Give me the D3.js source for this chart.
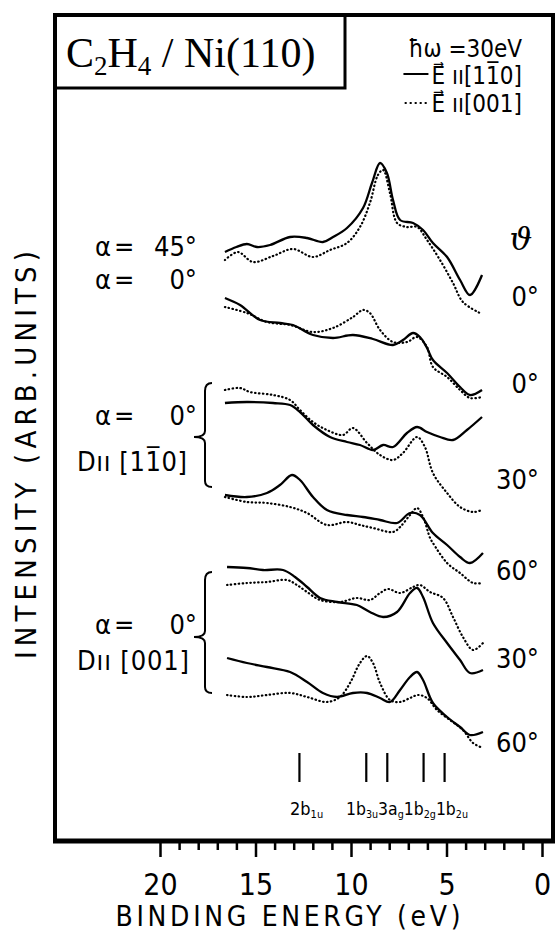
<!DOCTYPE html>
<html><head><meta charset="utf-8">
<script src="https://cdn.jsdelivr.net/npm/d3@7"></script>
<style>html,body{margin:0;padding:0;background:#fff;}svg{display:block;}</style>
</head><body>
<script>
// ---------------- DATA ----------------
// binding energy (eV), intensity (arb. units); solid = E || [1-10], dotted = E || [001]
const xTicksMajor = [0, 5, 10, 15, 20];
const xTicksMinor = d3.range(0, 21, 1);
const thetaLabels = ["0°", "0°", "30°", "60°", "30°", "60°"];
const markerEnergies = [12.7, 9.2, 8.1, 6.2, 5.1];

const s45_0_solid = [[16.6,58.9],[16.0,59.4],[15.45,59.7],[14.92,59.4],[14.24,59.6],[13.19,60.4],[12.3,60.3],[11.47,59.9],[10.94,60.4],[10.21,61.3],[9.37,63.3],[8.9,65.8],[8.48,67.8],[8.12,66.8],[7.8,64.1],[7.43,62.1],[6.75,61.8],[6.23,61.1],[5.71,59.8],[4.97,58.4],[4.29,56.1],[3.77,54.6],[3.14,56.6]];
const s45_0_dot = [[16.6,58.1],[15.92,58.9],[15.13,57.9],[14.08,58.5],[13.04,59.2],[11.99,58.4],[11.1,59.1],[10.21,59.8],[9.53,61.4],[9.01,63.8],[8.59,66.6],[8.32,67.1],[7.96,64.8],[7.59,61.8],[7.07,61.4],[6.54,61.4],[6.02,60.1],[5.34,58.1],[4.66,55.8],[4.14,53.9],[3.25,52.8]];

const s0_0_solid = [[16.6,54.3],[15.81,53.6],[14.76,52.1],[13.72,51.8],[13.04,51.6],[11.99,50.6],[10.94,50.3],[9.9,50.6],[8.85,50.2],[7.8,49.6],[7.28,50.1],[6.75,50.8],[6.39,50.4],[6.02,49.3],[5.71,48.1],[4.97,46.8],[4.29,45.4],[3.77,44.6],[3.14,45.1]];
const s0_0_dot = [[16.6,53.4],[15.45,52.8],[14.4,51.9],[13.19,51.6],[11.99,50.9],[10.94,51.3],[9.9,52.4],[9.37,53.1],[9.01,52.8],[8.48,51.1],[7.8,49.9],[7.07,49.9],[6.54,50.4],[6.02,49.4],[5.71,47.4],[4.97,46.4],[4.29,45.1],[3.77,44.3],[3.14,44.4]];

const d110_0_solid = [[16.6,43.8],[15.45,43.9],[14.08,43.8],[13.19,43.6],[12.67,42.9],[11.99,41.6],[11.1,40.4],[10.21,39.9],[9.53,39.6],[8.85,39.1],[8.32,39.6],[7.8,39.4],[7.07,40.8],[6.54,41.4],[6.02,40.9],[5.34,40.4],[4.66,40.1],[3.93,41.1],[3.14,42.4]];
const d110_0_dot = [[16.6,45.1],[15.81,45.3],[15.29,44.9],[14.08,44.6],[13.19,44.1],[12.67,43.1],[11.99,41.9],[11.26,41.1],[10.42,40.6],[9.9,41.3],[9.16,39.8],[8.48,38.6],[7.8,38.1],[7.28,38.8],[6.54,40.4],[6.13,39.4],[5.71,36.8],[4.97,34.8],[4.29,33.4],[3.61,32.9],[3.14,33.1]];

const d110_30_solid = [[16.6,34.6],[15.45,34.4],[14.4,34.8],[13.72,35.6],[13.09,36.6],[12.67,36.1],[11.99,34.4],[11.26,33.1],[10.21,32.6],[9.37,32.4],[8.48,32.1],[7.59,31.8],[6.91,32.8],[6.39,32.6],[5.71,30.8],[4.97,29.6],[4.29,28.4],[3.77,27.8],[3.09,28.8]];
const d110_30_dot = [[16.6,34.4],[15.45,33.9],[14.4,33.8],[13.19,33.4],[12.3,32.8],[11.26,31.6],[10.21,31.9],[9.53,31.6],[8.85,31.3],[7.8,30.9],[7.43,31.4],[6.91,32.6],[6.54,33.3],[6.23,32.4],[5.86,30.3],[5.71,29.8],[4.97,27.8],[4.29,26.8],[3.61,25.8],[3.14,25.8]];

const d001_30_solid = [[16.49,27.4],[15.45,27.3],[14.61,27.1],[13.56,27.1],[12.93,26.4],[12.3,25.4],[11.62,24.3],[10.73,23.9],[9.69,23.6],[9.01,22.9],[8.32,22.4],[7.59,22.9],[6.91,24.8],[6.54,25.3],[6.23,24.4],[5.71,21.8],[4.97,19.8],[4.29,18.1],[3.77,16.8],[3.09,17.1]];
const d001_30_dot = [[16.49,25.6],[15.45,25.8],[14.4,25.9],[13.35,26.1],[12.83,25.6],[12.3,24.9],[11.62,24.1],[10.58,23.9],[9.69,24.3],[9.01,24.1],[8.48,24.8],[8.06,25.2],[7.43,24.8],[6.75,25.4],[6.39,25.6],[5.86,24.9],[5.18,24.3],[4.66,22.4],[4.14,20.4],[3.61,19.1],[3.09,19.8]];

const d001_60_solid = [[16.49,18.3],[15.45,17.8],[14.4,17.4],[13.19,16.9],[12.3,15.9],[11.47,14.8],[10.73,14.4],[9.9,14.8],[9.16,14.8],[8.48,14.3],[7.96,13.9],[7.43,15.1],[6.91,16.4],[6.54,16.9],[6.23,16.1],[5.71,13.8],[4.97,12.4],[4.29,11.4],[3.77,10.6],[3.09,10.9]];
const d001_60_dot = [[16.49,14.6],[15.45,14.4],[14.4,14.6],[13.19,14.8],[12.3,14.4],[11.26,13.9],[10.58,14.4],[10.05,15.8],[9.53,17.8],[9.16,18.5],[8.85,17.8],[8.48,15.8],[7.96,14.1],[7.43,13.9],[6.91,14.3],[6.49,14.6],[6.02,14.3],[5.5,13.1],[4.82,12.1],[4.14,11.1],[3.61,9.8],[3.09,9.3]];

const solidSeries = [s45_0_solid, s0_0_solid, d110_0_solid, d110_30_solid, d001_30_solid, d001_60_solid];
const dottedSeries = [s45_0_dot, s0_0_dot, d110_0_dot, d110_30_dot, d001_30_dot, d001_60_dot];

// ---------------- CHART ----------------
const W = 559, H = 935;
const svg = d3.select("body").append("svg").attr("width", W).attr("height", H);
const x = d3.scaleLinear().domain([0, 20]).range([542, 160]);
const y = d3.scaleLinear().domain([0, 83]).range([841, 11]);
const cond = "'DejaVu Sans Condensed','Liberation Sans Narrow','DejaVu Sans',sans-serif";

const line = d3.line().x(d => x(d[0])).y(d => y(d[1])).curve(d3.curveCatmullRom.alpha(0.5));

// frame
const frameL = 55, frameR = 553, frameT = 15, frameB = 841;
svg.append("line").attr("x1", frameL).attr("x2", frameL).attr("y1", frameT - 2).attr("y2", frameB + 2).attr("stroke", "#000").attr("stroke-width", 4);
svg.append("line").attr("x1", frameR).attr("x2", frameR).attr("y1", frameT - 2).attr("y2", frameB + 2).attr("stroke", "#000").attr("stroke-width", 4);
svg.append("line").attr("x1", frameL - 2).attr("x2", frameR + 2).attr("y1", frameT).attr("y2", frameT).attr("stroke", "#000").attr("stroke-width", 4);
svg.append("line").attr("x1", frameL - 2).attr("x2", frameR + 2).attr("y1", frameB).attr("y2", frameB).attr("stroke", "#000").attr("stroke-width", 5);

// title box
svg.append("path").attr("d", `M${frameL},88 H345 V${frameT}`).attr("fill", "none").attr("stroke", "#000").attr("stroke-width", 3);
const title = svg.append("text").attr("x", 66).attr("y", 67).attr("font-family", "'Liberation Serif','Times New Roman',serif").attr("font-size", 42);
title.append("tspan").text("C");
title.append("tspan").attr("font-size", 27).attr("dy", 8).text("2");
title.append("tspan").attr("dy", -8).text("H");
title.append("tspan").attr("font-size", 27).attr("dy", 8).text("4");
title.append("tspan").attr("dy", -8).text(" / Ni(110)");

// legend
const lg = svg.append("g").attr("font-family", cond).attr("font-size", 24);
lg.append("text").attr("x", 522).attr("y", 57).attr("text-anchor", "end").text("ħω =30eV");
const l1 = lg.append("text").attr("x", 522).attr("y", 84).attr("text-anchor", "end").text("E\u20D7 ıı[11\u03050]");
const l2 = lg.append("text").attr("x", 522).attr("y", 112).attr("text-anchor", "end").text("E\u20D7 ıı[001]");
const w1 = l1.node().getComputedTextLength(), w2 = l2.node().getComputedTextLength();
lg.append("line").attr("x1", 522 - w1 - 28).attr("x2", 522 - w1 - 3).attr("y1", 74).attr("y2", 74).attr("stroke", "#000").attr("stroke-width", 2);
lg.append("line").attr("x1", 522 - w2 - 26).attr("x2", 522 - w2 - 3).attr("y1", 103).attr("y2", 103).attr("stroke", "#000").attr("stroke-width", 2).attr("stroke-dasharray", "0.5,4.5").attr("stroke-linecap", "round");

// curves
svg.append("g").selectAll("path").data(solidSeries).join("path")
  .attr("d", line).attr("fill", "none").attr("stroke", "#000").attr("stroke-width", 2.3).attr("stroke-linejoin", "round");
svg.append("g").selectAll("path").data(dottedSeries).join("path")
  .attr("d", line).attr("fill", "none").attr("stroke", "#000").attr("stroke-width", 2.2)
  .attr("stroke-dasharray", "0.5,3.4").attr("stroke-linecap", "round");

// x axis ticks
const gx = svg.append("g").attr("transform", `translate(0,${frameB})`);
gx.call(d3.axisBottom(x).tickValues(xTicksMinor.filter(v => v % 5 !== 0)).tickSize(9).tickFormat(""));
const gx2 = svg.append("g").attr("transform", `translate(0,${frameB})`);
gx2.call(d3.axisBottom(x).tickValues(xTicksMajor).tickSize(16).tickPadding(12).tickFormat(d3.format("d")));
svg.selectAll(".domain").remove();
svg.selectAll(".tick line").attr("stroke", "#000").attr("stroke-width", 2.5);
gx2.selectAll(".tick text").attr("font-family", cond).attr("font-size", 30).attr("fill", "#000").attr("dy", "0.85em");

svg.append("text").attr("x", 288).attr("y", 926).attr("text-anchor", "middle")
  .attr("font-family", cond).attr("font-size", 28).attr("textLength", 345).attr("lengthAdjust", "spacing")
  .text("BINDING ENERGY (eV)");

svg.append("text").attr("transform", "translate(36,455) rotate(-90)").attr("text-anchor", "middle")
  .attr("font-family", cond).attr("font-size", 29).attr("textLength", 408).attr("lengthAdjust", "spacing")
  .text("INTENSITY (ARB.UNITS)");

// left labels
const ll = svg.append("g").attr("font-family", cond).attr("font-size", 27);
function alphaLabel(yb, ang) {
  ll.append("text").attr("x", 95).attr("y", yb).text("α");
  ll.append("text").attr("x", 114).attr("y", yb).text("=");
  ll.append("text").attr("x", 197).attr("y", yb).attr("text-anchor", "end").text(ang);
}
alphaLabel(256, "45°");
alphaLabel(289, "0°");
alphaLabel(425, "0°");
alphaLabel(634, "0°");
ll.append("text").attr("x", 77).attr("y", 471).attr("textLength", 110).attr("lengthAdjust", "spacing").text("Dıı [11\u03050]");
ll.append("text").attr("x", 77).attr("y", 670).attr("textLength", 112).attr("lengthAdjust", "spacing").text("Dıı [001]");

function brace(top, tip, bot) {
  const xv = 205, xt = 194;
  return `M${xv + 7},${top} Q${xv},${top} ${xv},${top + 8} V${tip - 6} Q${xv},${tip} ${xt},${tip} Q${xv},${tip} ${xv},${tip + 6} V${bot - 6} Q${xv},${bot} ${xv + 7},${bot}`;
}
svg.append("path").attr("d", brace(383, 437, 487)).attr("fill", "none").attr("stroke", "#000").attr("stroke-width", 2);
svg.append("path").attr("d", brace(572, 637, 693)).attr("fill", "none").attr("stroke", "#000").attr("stroke-width", 2);

// right labels (theta)
const rl = svg.append("g").attr("font-family", cond).attr("font-size", 27);
rl.append("text").attr("x", 521).attr("y", 250).attr("text-anchor", "middle").attr("font-size", 32).attr("font-family", "'DejaVu Serif',serif").attr("font-style", "italic").text("ϑ");
const thetaY = [306, 393, 489, 580, 668, 752];
thetaLabels.forEach((t, i) => {
  rl.append("text").attr("x", 539).attr("y", thetaY[i]).attr("text-anchor", "end").text(t);
});

// marker lines for orbitals
svg.append("g").selectAll("line").data(markerEnergies).join("line")
  .attr("x1", d => x(d)).attr("x2", d => x(d)).attr("y1", 753).attr("y2", 782)
  .attr("stroke", "#000").attr("stroke-width", 2.2);
const ml = svg.append("g").attr("font-family", cond).attr("font-size", 18);
const t1 = ml.append("text").attr("x", 290).attr("y", 815);
t1.append("tspan").text("2b");
t1.append("tspan").attr("font-size", 11).attr("dy", 3).text("1u");
const orbs = [["1b", "3u"], ["3a", "g"], ["1b", "2g"], ["1b", "2u"]];
const t2 = ml.append("text").attr("x", 346).attr("y", 815).attr("textLength", 122).attr("lengthAdjust", "spacingAndGlyphs");
orbs.forEach((o, i) => {
  t2.append("tspan").attr("dy", i === 0 ? 0 : -3).attr("font-size", 18).text(o[0]);
  t2.append("tspan").attr("font-size", 11).attr("dy", 3).text(o[1]);
});
</script>
</body></html>
